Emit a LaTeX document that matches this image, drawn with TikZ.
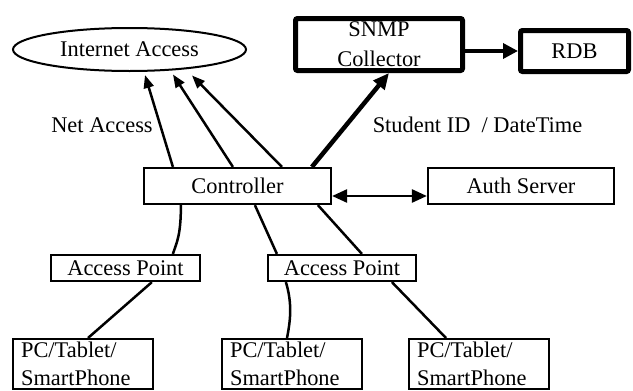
\documentclass[tikz,border=0pt]{standalone}
\usepackage{fontspec}
\setmainfont{Liberation Serif}
\usetikzlibrary{arrows.meta,shapes.geometric}
\begin{document}
\begin{tikzpicture}[x=1pt,y=-1pt,
  every node/.style={font=\fontsize{22.4}{28}\selectfont, inner sep=0pt},
  box/.style={draw, line width=2.2pt, rectangle},
  thickbox/.style={draw, line width=5pt, rounded corners=2pt, rectangle},
  pcbox/.style={draw, line width=2.2pt, rectangle, anchor=north west, align=left,
    text width=124pt, inner xsep=8pt, inner ysep=3pt},
  link/.style={line width=2.5pt},
  arr/.style={line width=2.5pt, -{Triangle[length=13pt,width=10pt]}},
  sarr/.style={line width=4.5pt, -{Triangle[length=16pt,width=14pt]}},
  rarr/.style={line width=3.5pt, -{Triangle[length=15pt,width=15pt]}},
  darr/.style={line width=2.5pt, {Triangle[length=15pt,width=13pt]}-{Triangle[length=15pt,width=13pt]}},
]
\clip (0,0) rectangle (633,391);
\fill[white] (0,0) rectangle (633,391);

% nodes
\node[ellipse, draw, line width=2pt, minimum width=233pt, minimum height=43pt] (inet) at (129.5,49.5) {Internet Access};
\node[thickbox, minimum width=167pt, minimum height=52pt, align=center,
  font=\fontsize{22.4}{30}\selectfont] (snmp) at (379,44.5) {SNMP\\Collector};
\node[thickbox, minimum width=108pt, minimum height=41pt] (rdb) at (574.5,51) {RDB};
\node[box, minimum width=187pt, minimum height=36pt] (ctrl) at (237.5,186) {Controller};
\node[box, minimum width=186pt, minimum height=36pt] (auth) at (521,186) {Auth Server};
\node[box, minimum width=149pt, minimum height=26pt] (ap1) at (125.5,268) {Access Point};
\node[box, minimum width=148pt, minimum height=26pt] (ap2) at (342,268) {Access Point};
\node[pcbox] (pc1) at (12,338) {PC/Tablet/\\SmartPhone};
\node[pcbox] (pc2) at (221,338) {PC/Tablet/\\SmartPhone};
\node[pcbox] (pc3) at (408,338) {PC/Tablet/\\SmartPhone};

% labels
\node (lnet) at (102,125) {Net Access};
\node (lstu) at (477.5,125) {Student ID\ \ / DateTime};

% arrows to Internet Access
\draw[arr] ([xshift=30pt]ctrl.north west) -- ([xshift=15.5pt,yshift=-25.5pt]inet.center);
\draw[arr] ([xshift=90pt]ctrl.north west) -- ([xshift=43.5pt,yshift=-25pt]inet.center);
\draw[arr] ([xshift=139pt]ctrl.north west) -- ([xshift=62.5pt,yshift=-26pt]inet.center);

% SNMP and RDB
\draw[sarr] ([xshift=169pt]ctrl.north west) -- ([xshift=10pt]snmp.south);
\draw[rarr] (snmp.east |- rdb.west) -- (rdb.west);

% controller <-> auth
\draw[darr] ([yshift=-10pt]ctrl.east) -- ([yshift=-10pt]auth.west);

% lower links
\draw[link] ([xshift=38pt]ctrl.south west) .. controls +(0,30) and +(4,-12) .. ([xshift=123pt]ap1.north west);
\draw[link] ([xshift=102pt]ap1.south west) -- ([xshift=76pt]pc1.north west);
\draw[link] ([xshift=112pt]ctrl.south west) -- ([xshift=10pt]ap2.north west);
\draw[link] ([xshift=19pt]ap2.south west) .. controls +(6,20) and +(4,-20) .. ([xshift=66pt]pc2.north west);
\draw[link] ([xshift=175pt]ctrl.south west) -- ([xshift=95pt]ap2.north west);
\draw[link] ([xshift=125pt]ap2.south west) -- ([xshift=38pt]pc3.north west);
\end{tikzpicture}
\end{document}
